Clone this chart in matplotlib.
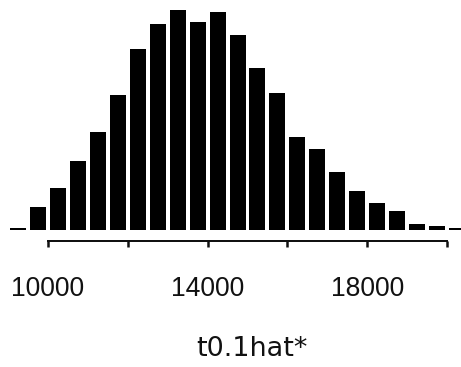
import matplotlib
matplotlib.use("Agg")
import matplotlib.pyplot as plt

# Bootstrap distribution of t0.1hat*: bin centres and counts
bin_centers = [9250, 9750, 10250, 10750, 11250, 11750, 12250, 12750, 13250,
               13750, 14250, 14750, 15250, 15750, 16250, 16750, 17250, 17750,
               18250, 18750, 19250, 19750, 20250]
counts = [1, 11, 20, 33, 47, 65, 87, 99, 106, 100, 105, 94, 78, 66, 45, 39,
          28, 19, 13, 9, 3, 2, 1]

labelled_ticks = [10000, 14000, 18000]
tick_labels = ["10000", "14000", "18000"]
plain_ticks = [12000, 16000, 20000]
x_label = "t0.1hat*"

W, H, DPI = 461, 367, 72
fig = plt.figure(figsize=(W / DPI, H / DPI), dpi=DPI)
fig.patch.set_facecolor("white")

# axes spans the full width; baseline of the bars sits 230 px from the top
ax = fig.add_axes([0, 137 / H, 1, 230 / H])
ax.bar(bin_centers, counts, width=400, color="black", edgecolor="none")

ax.set_xlim(8806.3, 20342.8)
ax.set_ylim(0, 110.8)

for side in ("top", "right", "left"):
    ax.spines[side].set_visible(False)
ax.spines["bottom"].set_position(("outward", 11))
ax.spines["bottom"].set_bounds(10000, 20000)
ax.spines["bottom"].set_linewidth(2)
ax.spines["bottom"].set_color("#111111")

ax.set_yticks([])
ax.set_xticks(labelled_ticks)
ax.set_xticklabels(tick_labels, fontfamily="Liberation Sans", fontsize=26.5,
                   color="#111111")
ax.set_xticks(plain_ticks, minor=True)
ax.tick_params(axis="x", which="both", direction="out", length=6, width=2.5,
               color="#111111")
ax.tick_params(axis="x", which="major", pad=29)

ax.set_xlabel(x_label, fontfamily="DejaVu Sans", fontsize=27, color="#111111")
ax.xaxis.set_label_coords(252 / W, -0.46)

fig.savefig("out.png", dpi=DPI, facecolor="white")
